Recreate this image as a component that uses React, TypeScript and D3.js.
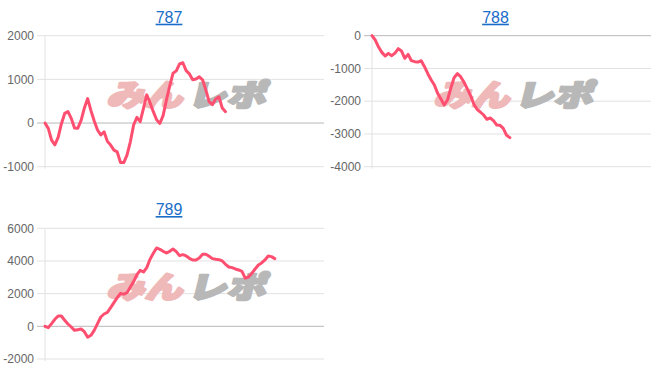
import React from "react";
import * as d3 from "d3";

const titles = ["787", "788", "789"];

const series787 = [
  0, -123, -390, -500, -330, -15, 220, 260, 107, -115, -120, 60, 345, 560, 285, 45,
  -160, -275, -200, -420, -505, -620, -660, -905, -905, -730, -430, -45, 130, 30,
  335, 645, 465, 260, 75, -10, 175, 530, 850, 1140, 1195, 1355, 1380, 1200, 1125,
  990, 1010, 1060, 990, 760, 490, 420, 550, 600, 345, 260,
];

const series788 = [
  0, -132, -346, -509, -620, -540, -610, -530, -397, -468, -690, -570, -763, -793,
  -805, -763, -946, -1160, -1343, -1505, -1760, -1933, -2116, -1963, -1607, -1282,
  -1160, -1251, -1414, -1617, -1821, -2085, -2248, -2330, -2421, -2553, -2513,
  -2594, -2726, -2736, -2828, -3042, -3113,
];

const series789 = [
  0, -82, 163, 429, 633, 633, 367, 143, -41, -245, -204, -163, -327, -670, -550,
  -245, 163, 571, 755, 857, 1143, 1449, 1755, 2020, 1959, 2061, 2408, 2735, 3163,
  3429, 3327, 3592, 4102, 4469, 4796, 4714, 4592, 4490, 4592, 4735, 4571, 4327,
  4388, 4306, 4163, 4061, 4061, 4184, 4408, 4408, 4286, 4143, 4102, 4082, 4000,
  3796, 3633, 3592, 3510, 3449, 3367, 2950, 3020, 3245, 3510, 3755, 3878, 4061,
  4306, 4265, 4143,
];

const ticks787 = [-1000, 0, 1000, 2000];
const ticks788 = [-4000, -3000, -2000, -1000, 0];
const ticks789 = [-2000, 0, 2000, 4000, 6000];

const xMax = 85;

type PanelProps = {
  title: string;
  data: number[];
  ticks: number[];
  left: number;
  right: number;
  top: number;
  bottom: number;
  titleX: number;
  titleY: number;
};

function Panel({ title, data, ticks, left, right, top, bottom, titleX, titleY }: PanelProps) {
  const x = d3.scaleLinear().domain([0, xMax]).range([left, right]);
  const y = d3
    .scaleLinear()
    .domain([d3.min(ticks) as number, d3.max(ticks) as number])
    .range([bottom, top]);
  const line = d3
    .line<number>()
    .x((_, i) => x(i))
    .y((d) => y(d));
  const cx = (left + right) / 2;
  const wmY = top + (bottom - top) * 0.535;
  return (
    <g>
      <text
        x={titleX}
        y={titleY}
        textAnchor="middle"
        fontSize={16}
        fill="#1a6dc8"
        textDecoration="underline"
        fontFamily="Liberation Sans, Arial, sans-serif"
      >
        {title}
      </text>
      {ticks.map((t) => (
        <g key={t}>
          <line
            x1={left - 8}
            x2={right}
            y1={y(t)}
            y2={y(t)}
            stroke={t === 0 ? "#b8b8b8" : "#e2e2e2"}
            strokeWidth={1}
          />
          <text
            x={left - 11}
            y={y(t)}
            dy="0.35em"
            textAnchor="end"
            fontSize={12}
            fill="#666"
            fontFamily="Liberation Sans, Arial, sans-serif"
          >
            {t}
          </text>
        </g>
      ))}
      <line x1={left} x2={left} y1={top} y2={bottom + 2} stroke="#e2e2e2" strokeWidth={1} />
      <g transform={`translate(${cx},${wmY}) skewX(-14)`} fontWeight={900} fontSize={30}
        fontFamily="Noto Sans CJK JP, sans-serif" strokeWidth={2.5} strokeLinejoin="round">
        <text x={-78} y={0} textLength={76} lengthAdjust="spacingAndGlyphs" fill="#efb9b9" stroke="#efb9b9">
          みん
        </text>
        <text x={3} y={0} textLength={78} lengthAdjust="spacingAndGlyphs" fill="#b8b8b8" stroke="#b8b8b8">
          レポ
        </text>
      </g>
      <path
        d={line(data) ?? ""}
        fill="none"
        stroke="#ff4f70"
        strokeWidth={3}
        strokeLinejoin="round"
        strokeLinecap="round"
      />
    </g>
  );
}

export default function App() {
  return (
    <svg
      width={652}
      height={382}
      style={{ position: "absolute", left: 0, top: 0, background: "#fff" }}
    >
      <Panel title={titles[0]} data={series787} ticks={ticks787}
        left={45} right={324} top={35.7} bottom={166.7} titleX={169} titleY={22.7} />
      <Panel title={titles[1]} data={series788} ticks={ticks788}
        left={372} right={651} top={35.7} bottom={166.7} titleX={495.5} titleY={22.7} />
      <Panel title={titles[2]} data={series789} ticks={ticks789}
        left={45} right={324} top={228.3} bottom={359} titleX={169} titleY={215} />
    </svg>
  );
}
